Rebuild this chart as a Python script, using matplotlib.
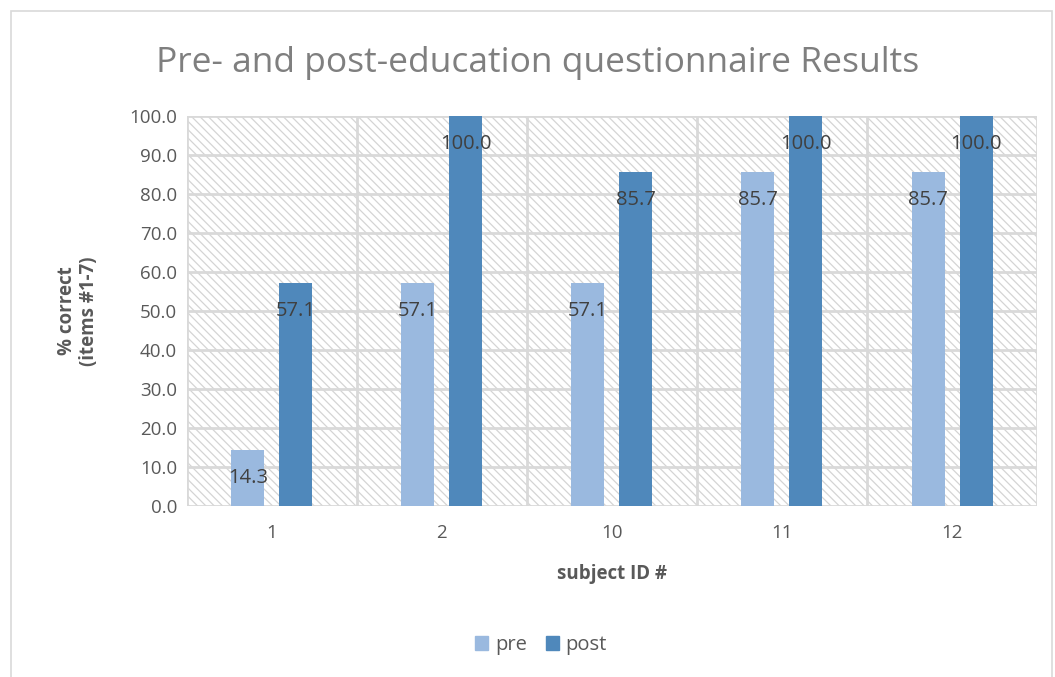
import numpy as np
import matplotlib.pyplot as plt
from matplotlib.patches import Rectangle, Patch

subjects = ['1', '2', '10', '11', '12']
pre = [14.3, 57.1, 57.1, 85.7, 85.7]
post = [57.1, 100.0, 85.7, 100.0, 100.0]

plt.rcParams['font.family'] = ['Open Sans', 'DejaVu Sans']
plt.rcParams['hatch.color'] = '#d4d4d4'
plt.rcParams['hatch.linewidth'] = 0.9

fig = plt.figure(figsize=(10.55, 6.77), dpi=100)
ax = fig.add_axes([0.177, 0.2526, 0.806, 0.5761])

# outer chart border
fig.patches.append(Rectangle((0.0105, -0.01), 0.987, 0.994, transform=fig.transFigure,
                             fill=False, edgecolor='#d9d9d9', linewidth=1.2))

# hatched plot area background
ax.add_patch(Rectangle((0, 0), 1, 1, transform=ax.transAxes, facecolor='white',
                       hatch='\\\\\\\\', edgecolor='#d4d4d4', linewidth=0, zorder=0))

x = np.arange(len(subjects))
w = 0.194
off = 0.141
b1 = ax.bar(x - off, pre, w, color='#9AB9DF', label='pre', zorder=3)
b2 = ax.bar(x + off, post, w, color='#4F88BB', label='post', zorder=3)

for bars, vals in ((b1, pre), (b2, post)):
    for r, v in zip(bars, vals):
        ax.annotate('%.1f' % v, (r.get_x() + r.get_width() / 2, v), xytext=(0, -20),
                    textcoords='offset points', ha='center', va='center',
                    fontsize=14.5, color='#404040', zorder=4)

ax.set_xlim(-0.5, len(subjects) - 0.5)
ax.set_ylim(0, 100)
ax.set_yticks(np.arange(0, 101, 10))
ax.set_yticklabels(['%.1f' % v for v in np.arange(0, 101, 10)])
ax.set_xticks(x)
ax.set_xticklabels(subjects)

# grid lines
for yv in np.arange(10, 101, 10):
    ax.axhline(yv, color='#d9d9d9', lw=2, zorder=1)
for xv in np.arange(-0.5, len(subjects), 1):
    ax.axvline(xv, color='#d9d9d9', lw=2, zorder=1)

for s in ax.spines.values():
    s.set_visible(False)
ax.axhline(0, color='#d9d9d9', lw=2, zorder=2)
ax.tick_params(length=0, labelsize=13.5, colors='#595959', pad=7)
ax.tick_params(axis='x', pad=13)

ax.set_ylabel('% correct\n(items #1-7)', fontsize=13.5, fontweight='bold', color='#595959',
              labelpad=22, linespacing=1.1)
ax.set_xlabel('subject ID #', fontsize=13.5, fontweight='bold', color='#595959', labelpad=16)

fig.text(0.51, 0.907, 'Pre- and post-education questionnaire Results', ha='center', va='center',
         fontsize=25.5, color='#7f7f7f')

fig.legend(handles=[Patch(color='#9AB9DF', label='pre'), Patch(color='#4F88BB', label='post')],
           loc='center', bbox_to_anchor=(0.513, 0.047), ncol=2, frameon=False,
           fontsize=14.5, handlelength=0.65, handleheight=0.65, handletextpad=0.35,
           columnspacing=0.9, labelcolor='#595959')

fig.savefig('out.png', dpi=100)
